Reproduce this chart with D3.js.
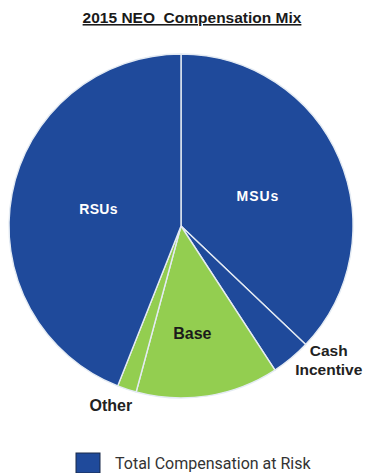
<!DOCTYPE html>
<html>
<head>
<meta charset="utf-8">
<script src="https://cdn.jsdelivr.net/npm/d3@7"></script>
<style>
  body { margin: 0; background: #fff; }
  svg { display: block; }
</style>
</head>
<body>
<svg></svg>
<script>
const categories = ["MSUs", "Cash Incentive", "Base", "Other", "RSUs"];
const shares = [37.1, 3.7, 13.4, 1.8, 44.0];
const atRisk = [true, true, false, false, true];
const legendLabels = ["Total Compensation at Risk"];

const size = { w: 368, h: 473 };
const center = { x: 181, y: 226 };
const radius = 172;
const blue = "#1f4a9b";
const green = "#93ce50";

// label placement: radius factor, angle nudge (deg), font size per slice
const labelSpec = {
	"MSUs": { k: 0.48, da: 2, fill: "#fff", fs: 14, ls: 1, lines: ["MSUs"] },
	"Cash Incentive": { k: 1.16, da: -8, fill: "#222", fs: 15.5, ls: 0, lines: ["Cash", "Incentive"] },
	"Base": { k: 0.63, da: 3, fill: "#1b1b1b", fs: 16, ls: 0, lines: ["Base"] },
	"Other": { k: 1.12, da: 3, fill: "#222", fs: 16, ls: 0, lines: ["Other"] },
	"RSUs": { k: 0.49, da: 1, fill: "#fff", fs: 14, ls: 0.3, lines: ["RSUs"] },
};

const svg = d3.select("svg").attr("width", size.w).attr("height", size.h);

const data = categories.map((c, i) => ({ name: c, value: shares[i], risk: atRisk[i] }));

const pie = d3.pie().sort(null).value((d) => d.value);
const arc = d3.arc().innerRadius(0).outerRadius(radius);
const arcs = pie(data);

const g = svg.append("g").attr("transform", `translate(${center.x},${center.y})`);

g.selectAll("path")
	.data(arcs)
	.enter()
	.append("path")
	.attr("d", arc)
	.attr("fill", (d) => (d.data.risk ? blue : green))
	.attr("stroke", "#e4ebf3")
	.attr("stroke-width", 1.4);

g.selectAll("text.lbl")
	.data(arcs)
	.enter()
	.append("text")
	.attr("class", "lbl")
	.each(function (d) {
		const s = labelSpec[d.data.name];
		const a = (d.startAngle + d.endAngle) / 2 + (s.da * Math.PI) / 180;
		const r = radius * s.k;
		const x = r * Math.sin(a);
		const y = -r * Math.cos(a);
		const t = d3.select(this)
			.attr("text-anchor", "middle")
			.attr("font-family", "Liberation Sans, Arial, sans-serif")
			.attr("font-weight", "bold")
			.attr("font-size", s.fs)
			.attr("letter-spacing", s.ls)
			.attr("fill", s.fill);
		const n = s.lines.length;
		s.lines.forEach((line, i) => {
			t.append("tspan")
				.attr("x", x)
				.attr("y", y + (i - (n - 1) / 2) * 19)
				.attr("dy", "0.35em")
				.text(line);
		});
	});

// title
svg.append("text")
	.attr("x", 192)
	.attr("y", 23)
	.attr("text-anchor", "middle")
	.attr("font-family", "Liberation Sans, Arial, sans-serif")
	.attr("font-weight", "bold")
	.attr("font-size", 15.5)
	.attr("fill", "#1a1a1a")
	.attr("text-decoration", "underline")
	.attr("xml:space", "preserve")
	.text("2015 NEO  Compensation Mix");

// legend
const leg = svg.append("g").attr("transform", "translate(76,453)");
leg.append("rect")
	.attr("width", 24)
	.attr("height", 20)
	.attr("fill", blue)
	.attr("stroke", "#1a2a4a")
	.attr("stroke-width", 1);
leg.selectAll("text")
	.data(legendLabels)
	.enter()
	.append("text")
	.attr("x", 39)
	.attr("y", 16)
	.attr("font-family", "Roboto, sans-serif")
	.attr("font-size", 16)
	.attr("fill", "#333")
	.text((d) => d);
</script>
</body>
</html>
